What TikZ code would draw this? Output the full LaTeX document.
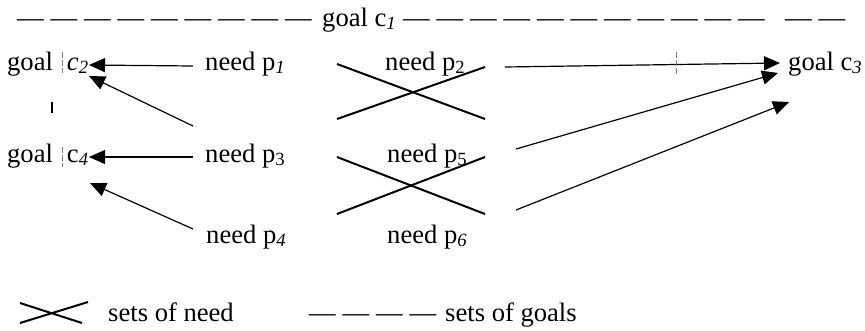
\documentclass[tikz,border=0pt]{standalone}
\usepackage{fontspec}
\setmainfont{Liberation Serif}
\usetikzlibrary{arrows.meta,calc}
\newcommand\dsh{\makebox[33.5pt][l]{—}}
\tikzset{
  txt/.style={inner sep=0pt, anchor=base west, font=\fontsize{26.6}{32}\selectfont},
  arr/.style={line width=1.2pt, -{Triangle[length=16pt,width=14pt]}},
  crossline/.style={line width=2pt},
  tickmark/.style={gray, line width=1pt, dash pattern=on 6pt off 2pt},
}
\begin{document}
\begin{tikzpicture}[x=1pt,y=-1pt]
\useasboundingbox (0,0) rectangle (865,330);
% top line
\node[txt] (topl) at (17,26) {\dsh\dsh\dsh\dsh\dsh\dsh\dsh\dsh\dsh};
\node[txt] (c1) at (322,26) {goal c\textsubscript{\textit{1}}};
\node[txt] (topr) at (403,26) {\dsh\dsh\dsh\dsh\dsh\dsh\dsh\dsh\dsh\dsh\dsh};
\node[txt] (topx) at (785,26) {\dsh\dsh};
% goals
\node[txt] (c2) at (7,70) {goal\hspace{14pt}\textit{c}\textsubscript{\textit{2}}};
\node[txt] (c4) at (7,162) {goal\hspace{14pt}c\textsubscript{\textit{4}}};
\node[txt] (c3) at (788,70) {goal c\textsubscript{\textit{3}}};
% needs
\node[txt] (p1) at (205,70) {need p\textsubscript{\textit{1}}};
\node[txt] (p3) at (205,162) {need p\textsubscript{3}};
\node[txt] (p4) at (206,243) {need p\textsubscript{\textit{4}}};
\node[txt] (p2) at (385,70) {need p\textsubscript{2}};
\node[txt] (p5) at (387,162) {need p\textsubscript{5}};
\node[txt] (p6) at (387,243) {need p\textsubscript{\textit{6}}};
% tick marks
\draw[tickmark] ($(c2.base west)+(55,-18)$) -- ($(c2.base west)+(55,3)$);
\draw[tickmark] ($(c4.base west)+(55,-15)$) -- ($(c4.base west)+(55,5)$);
\draw[line width=1.5pt] (52,102) -- (52,113);
% arrows to c2 / c4
\draw[arr] ($(p1.base west)+(-12,-4)$) -- ($(c2.base west)+(82,-5)$);
\draw[arr] ($(p3.base west)+(-12,-36)$) -- ($(c2.base west)+(82,6)$);
\draw[arr] ($(p3.base west)+(-12,-5)$) -- ($(c4.base west)+(82,-5)$);
\draw[arr] ($(p4.base west)+(-13,-14)$) -- ($(c4.base west)+(83,21)$);
% crosses
\draw[crossline] (337,64) -- (485,119);
\draw[crossline] (337,119) -- (485,67);
\draw[crossline] (337,157) -- (485,214);
\draw[crossline] (337,214) -- (485,157);
% arrows to c3
\draw[arr] ($(p2.base west)+(120,-3)$) -- ($(c3.base west)+(-8,-7)$);
\draw[tickmark] (676,52) -- (676,75);
\draw[arr] ($(p5.base west)+(129,-13)$) -- ($(c3.base west)+(-10,3)$);
\draw[arr] ($(p6.base west)+(129,-33)$) -- ($(c3.base west)+(1,32)$);
% legend
\draw[crossline] (20,303) -- (82,323);
\draw[crossline] (20,323) -- (88,302);
\node[txt] (lneed) at (108,321) {sets of need};
\node[txt] (ldash) at (309,321) {\dsh\dsh\dsh\dsh};
\node[txt] (lgoal) at (445,321) {sets of goals};
\end{tikzpicture}
\end{document}
